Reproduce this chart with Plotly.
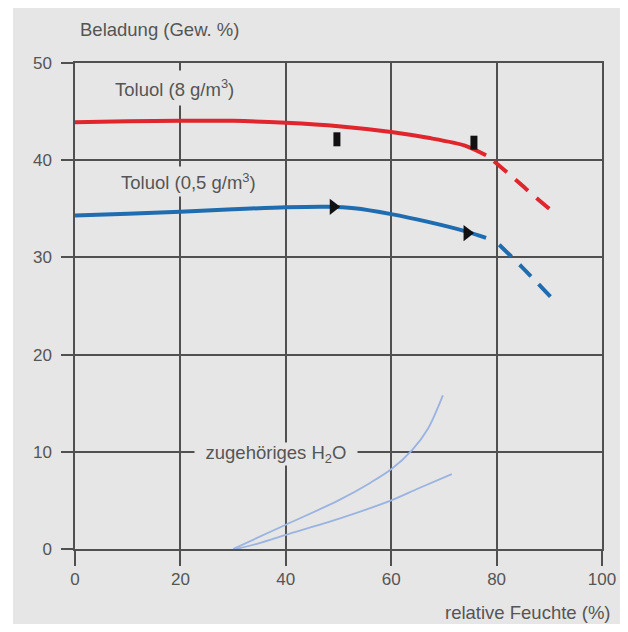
import plotly.graph_objects as go

# --- data ---
red_solid_x = [0, 10, 20, 30, 40, 50, 60, 67, 74, 78]
red_solid_y = [43.9, 44.0, 44.05, 44.05, 43.85, 43.5, 42.9, 42.3, 41.5, 40.5]
red_dash_x = [79.5, 84, 88, 90]
red_dash_y = [39.9, 37.8, 35.9, 35.0]

blue_solid_x = [0, 10, 20, 30, 40, 48, 53, 60, 67, 74, 78]
blue_solid_y = [34.3, 34.5, 34.7, 34.95, 35.15, 35.2, 35.05, 34.45, 33.65, 32.7, 32.0]
blue_dash_x = [80.5, 85, 90.5]
blue_dash_y = [31.3, 28.9, 25.8]

h2o_upper_x = [30, 40, 50, 56, 60, 64, 67, 69.8]
h2o_upper_y = [0, 2.5, 5.0, 6.8, 8.2, 10.2, 12.4, 15.8]
h2o_lower_x = [30.5, 35, 40, 50, 60, 65, 71.5]
h2o_lower_y = [0, 0.6, 1.45, 3.1, 5.0, 6.2, 7.7]

square_x = [49.7, 75.7]
square_y = [42.15, 41.8]
triangle_x = [49.0, 74.4]
triangle_y = [35.2, 32.5]

x_ticks = [0, 20, 40, 60, 80, 100]
y_ticks = [0, 10, 20, 30, 40, 50]

BG = "#e6e6e6"
GRID = "#505050"
TXT = "#555555"
RED = "#e0252d"
BLUE = "#1f6cb0"
LIGHT = "#9ab3e0"
FONT = "Liberation Sans, Arial, sans-serif"

# page is offset by the 8px body margin
W, H = 612, 616
L, T = 75 - 8, 63 - 8
PW, PH = 527, 486

fig = go.Figure()
fig.add_trace(go.Scatter(x=h2o_upper_x, y=h2o_upper_y, mode="lines",
                         line=dict(color=LIGHT, width=1.8, shape="spline", smoothing=0.9)))
fig.add_trace(go.Scatter(x=h2o_lower_x, y=h2o_lower_y, mode="lines",
                         line=dict(color=LIGHT, width=1.8, shape="spline", smoothing=0.8)))
fig.add_trace(go.Scatter(x=red_solid_x, y=red_solid_y, mode="lines",
                         line=dict(color=RED, width=4, shape="spline", smoothing=0.8)))
fig.add_trace(go.Scatter(x=red_dash_x, y=red_dash_y, mode="lines",
                         line=dict(color=RED, width=4, shape="spline", dash="17px,11px")))
fig.add_trace(go.Scatter(x=blue_solid_x, y=blue_solid_y, mode="lines",
                         line=dict(color=BLUE, width=4, shape="spline", smoothing=0.8)))
fig.add_trace(go.Scatter(x=blue_dash_x, y=blue_dash_y, mode="lines",
                         line=dict(color=BLUE, width=4, shape="spline", dash="17px,11px")))
fig.add_trace(go.Scatter(x=square_x, y=square_y, mode="markers",
                         marker=dict(symbol="line-ns", size=10, color="#111111",
                                     line=dict(width=7, color="#111111"))))
fig.add_trace(go.Scatter(x=triangle_x, y=triangle_y, mode="markers",
                         marker=dict(symbol="triangle-right", size=14, color="#111111")))

# outer gray area (white border on left and top)
fig.add_shape(type="rect", xref="paper", yref="paper", layer="below",
              x0=(13 - 75) / PW, x1=(660 - 75) / PW,
              y0=(549 - 660) / PH, y1=(549 - 5) / PH,
              fillcolor=BG, line=dict(width=0))

LBL = 18.5
fig.add_annotation(x=18.8, y=47.4, text="Toluol (8 g/m<sup>3</sup>)", showarrow=False,
                   font=dict(size=LBL, color=TXT, family=FONT), bgcolor=BG,
                   height=34, borderpad=0)
fig.add_annotation(x=21.5, y=37.8, text="Toluol (0,5 g/m<sup>3</sup>)", showarrow=False,
                   font=dict(size=LBL, color=TXT, family=FONT), bgcolor=BG,
                   height=29, borderpad=0)
fig.add_annotation(x=38.2, y=9.8, text="zugehöriges H<sub>2</sub>O", showarrow=False,
                   font=dict(size=LBL, color=TXT, family=FONT), bgcolor=BG,
                   width=162, height=22, borderpad=0)
fig.add_annotation(xref="paper", yref="paper", x=(78 - 75) / PW, y=(549 - 30) / PH,
                   xanchor="left", yanchor="middle", text="Beladung (Gew. %)", showarrow=False,
                   font=dict(size=LBL, color=TXT, family=FONT))
fig.add_annotation(xref="paper", yref="paper", x=(613 - 75) / PW, y=(549 - 612) / PH,
                   xanchor="right", yanchor="middle", text="relative Feuchte (%)", showarrow=False,
                   font=dict(size=LBL, color=TXT, family=FONT))

fig.update_layout(
    width=W, height=H,
    margin=dict(l=L, r=W - L - PW, t=T, b=H - T - PH, autoexpand=False),
    paper_bgcolor="white", plot_bgcolor=BG,
    showlegend=False,
    font=dict(family=FONT, size=17, color=TXT),
)
fig.update_xaxes(range=[0, 100], tickvals=x_ticks, ticks="outside", ticklen=15,
                 tickwidth=1.5, tickcolor=GRID, showgrid=True, gridcolor=GRID, gridwidth=1.5,
                 showline=True, linecolor=GRID, linewidth=1.5, mirror=True, zeroline=False,
                 automargin=False,
                 tickfont=dict(size=17, color=TXT), ticklabelstandoff=-1)
fig.update_yaxes(range=[0, 50], tickvals=y_ticks, ticks="outside", ticklen=12,
                 tickwidth=1.5, tickcolor=GRID, showgrid=True, gridcolor=GRID, gridwidth=1.5,
                 showline=True, linecolor=GRID, linewidth=1.5, mirror=True, zeroline=False,
                 automargin=False,
                 tickfont=dict(size=17, color=TXT), ticklabelstandoff=6)

fig.write_html("out.html")
